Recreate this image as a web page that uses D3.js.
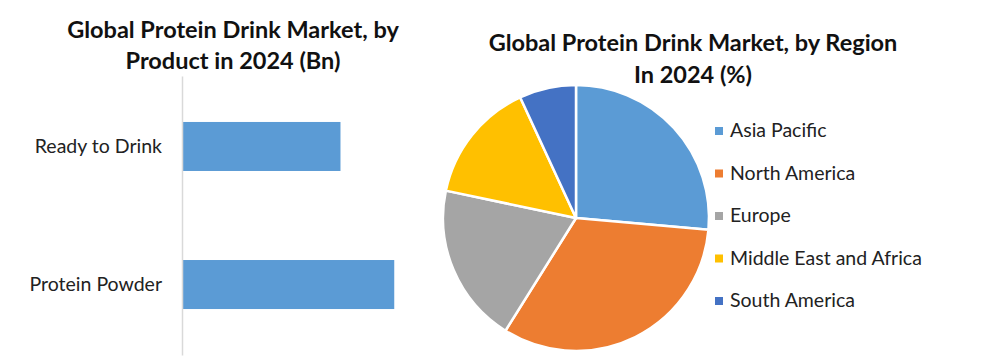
<!DOCTYPE html>
<html>
<head>
<meta charset="utf-8">
<script src="https://cdn.jsdelivr.net/npm/d3@7"></script>
<style>
  html, body { margin: 0; padding: 0; background: #fff; }
  svg { display: block; font-family: Lato, "Open Sans", sans-serif; }
</style>
</head>
<body>
<svg id="chart" width="981" height="363"></svg>
<script>
// Bar chart data (Bn)
const products = ['Ready to Drink', 'Protein Powder'];
const productValues = [11.2, 15.0];

// Pie chart data (%)
const regions = ['Asia Pacific', 'North America', 'Europe', 'Middle East and Africa', 'South America'];
const regionShares = [26.4, 32.5, 19.4, 14.8, 6.9];
const regionColors = ['#5B9BD5', '#ED7D31', '#A5A5A5', '#FFC000', '#4472C4'];

const svg = d3.select('#chart');

// ---- Left: bar chart ----
const bar = { left: 182, right: 465, top: 76, bottom: 355 };

const x = d3.scaleLinear()
    .domain([0, 20])
    .range([bar.left, bar.right]);

const y = d3.scaleBand()
    .domain(products)
    .range([bar.top, bar.bottom])
    .paddingInner(0.645)
    .paddingOuter(0.333);

svg.append('text')
    .attr('x', 233)
    .attr('y', 38)
    .attr('text-anchor', 'middle')
    .style('font-weight', 'bold')
    .style('font-size', '23.5px')
    .style('fill', '#111')
    .selectAll('tspan')
    .data(['Global Protein Drink Market, by', 'Product in 2024 (Bn)'])
    .join('tspan')
    .attr('x', 233)
    .attr('dy', (d, i) => i ? 31 : 0)
    .text(d => d);

products.forEach((p, i) => {
    svg.append('rect')
        .attr('x', x(0))
        .attr('y', y(p))
        .attr('width', x(productValues[i]) - x(0))
        .attr('height', y.bandwidth())
        .attr('fill', '#5B9BD5');
});

// category axis
const yAxis = svg.append('g')
    .attr('transform', `translate(${bar.left},0)`)
    .call(d3.axisLeft(y).tickSize(0).tickPadding(20));
yAxis.select('.domain')
    .attr('stroke', '#d9d9d9')
    .attr('stroke-width', 1.5);
yAxis.selectAll('text')
    .style('font-family', 'Lato, sans-serif')
    .style('font-size', '19.5px')
    .style('fill', '#222');

// ---- Right: pie chart ----
svg.append('text')
    .attr('x', 693)
    .attr('y', 51)
    .attr('text-anchor', 'middle')
    .style('font-weight', 'bold')
    .style('font-size', '23.5px')
    .style('fill', '#111')
    .selectAll('tspan')
    .data(['Global Protein Drink Market, by Region', 'In 2024 (%)'])
    .join('tspan')
    .attr('x', 693)
    .attr('dy', (d, i) => i ? 32 : 0)
    .text(d => d);

const pie = d3.pie().sort(null).value(d => d);
const arc = d3.arc().innerRadius(0).outerRadius(133);

const pg = svg.append('g')
    .attr('transform', 'translate(576,218)');

pg.selectAll('path')
    .data(pie(regionShares))
    .join('path')
    .attr('d', arc)
    .attr('fill', (d, i) => regionColors[i])
    .attr('stroke', '#fff')
    .attr('stroke-width', 2.5)
    .attr('stroke-linejoin', 'round');

// Legend
const legend = svg.append('g')
    .attr('transform', 'translate(715,137)');

regions.forEach((r, i) => {
    const row = legend.append('g')
        .attr('transform', `translate(0,${i * 42.5})`);
    row.append('rect')
        .attr('x', 0)
        .attr('y', -10)
        .attr('width', 8)
        .attr('height', 8)
        .attr('fill', regionColors[i]);
    row.append('text')
        .attr('x', 15)
        .attr('y', 0)
        .style('font-size', '19.5px')
        .style('fill', '#222')
        .text(r);
});
</script>
</body>
</html>
